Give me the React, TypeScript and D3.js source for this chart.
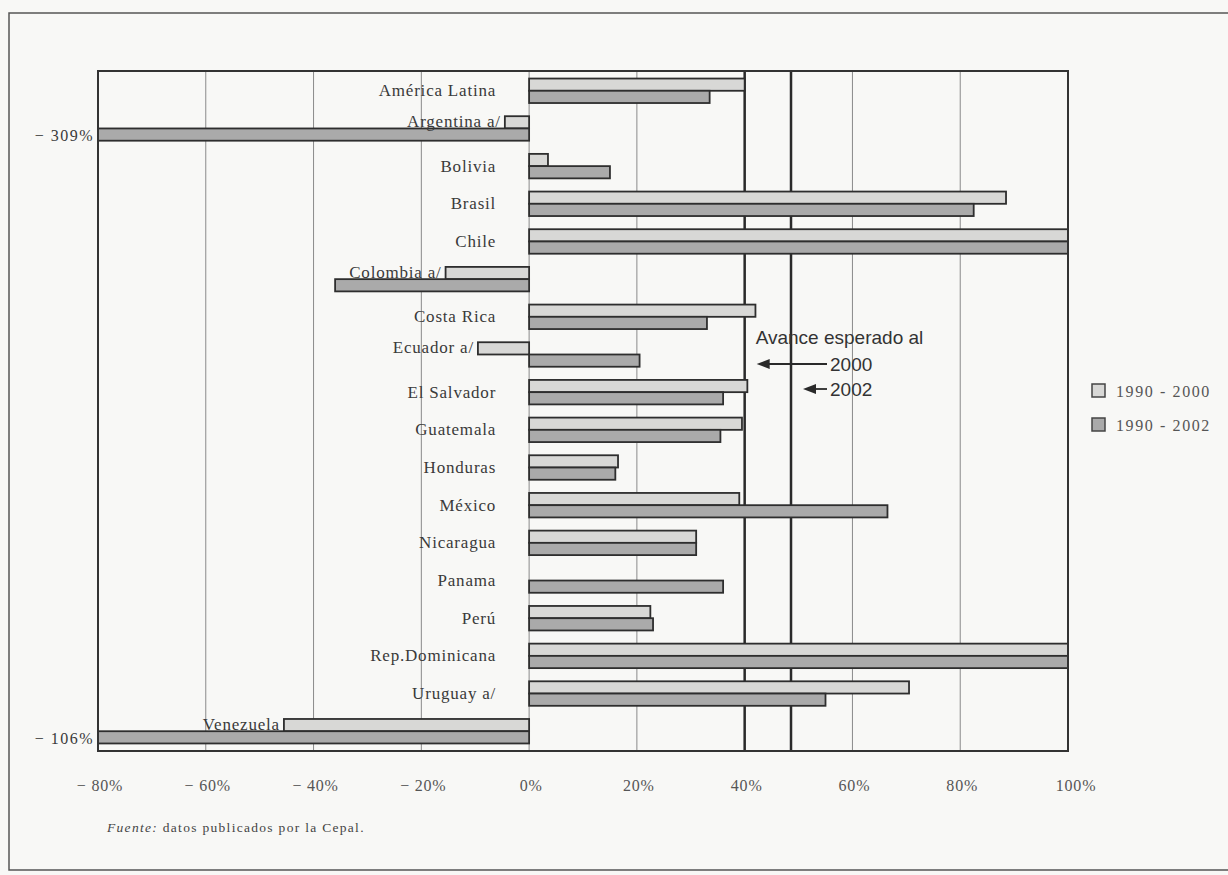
import React from "react";
import * as d3 from "d3";

// Avance en la reducción de la pobreza extrema, por país
const categories = [
  "América Latina", "Argentina a/", "Bolivia", "Brasil", "Chile", "Colombia a/",
  "Costa Rica", "Ecuador a/", "El Salvador", "Guatemala", "Honduras", "México",
  "Nicaragua", "Panama", "Perú", "Rep.Dominicana", "Uruguay a/", "Venezuela",
];
const series = ["1990 - 2000", "1990 - 2002"];
const values2000 = [40, -4.5, 3.5, 88.5, 100, -15.5, 42, -9.5, 40.5, 39.5, 16.5, 39, 31, 0, 22.5, 100, 70.5, -45.5];
const values2002 = [33.5, -309, 15, 82.5, 100, -36, 33, 20.5, 36, 35.5, 16, 66.5, 31, 36, 23, 100, 55, -106];
const xTicks = [-80, -60, -40, -20, 0, 20, 40, 60, 80, 100];
// Avance esperado al 2000 y al 2002
const expectedYears = ["2000", "2002"];
const expectedValues = [40, 48.6];

const W = 1228;
const H = 875;
const plot = { left: 98, right: 1068, top: 71, bottom: 751 };
const fills = ["#d8d8d6", "#aaaaaa"];
const ink = "#3a3a3a";
const serif = "'Liberation Serif', 'DejaVu Serif', serif";
const sans = "'Liberation Sans', Arial, sans-serif";

const fmtPct = (v: number) => (v < 0 ? "\u2212 " : "") + Math.abs(v) + "%";

export default function App() {
  const x = d3.scaleLinear().domain([-80, 100]).range([plot.left, plot.right]);
  const xc = x.copy().clamp(true);
  const y = d3
    .scaleBand<string>()
    .domain(categories)
    .range([plot.top, plot.bottom])
    .paddingInner(0.35)
    .paddingOuter(0.2);
  const ys = d3.scaleBand<string>().domain(series).range([0, y.bandwidth()]);

  const rows = categories.map((c, i) => ({ c, v: [values2000[i], values2002[i]] }));

  return (
    <svg
      width={W}
      height={H}
      style={{ position: "absolute", left: 0, top: 0, display: "block" }}
    >
      <rect x={0} y={0} width={W} height={H} fill="#f8f8f6" />
      {/* marco de la figura */}
      <rect x={9} y={13} width={W + 20} height={857} fill="none" stroke="#555" strokeWidth={1.5} />

      {/* líneas de la cuadrícula */}
      {xTicks.map((t) => (
        <line
          key={t}
          x1={x(t)}
          x2={x(t)}
          y1={plot.top}
          y2={plot.bottom}
          stroke="#8a8a8a"
          strokeWidth={1}
        />
      ))}
      {expectedValues.map((v, i) => (
        <line
          key={expectedYears[i]}
          x1={x(v)}
          x2={x(v)}
          y1={plot.top}
          y2={plot.bottom}
          stroke="#2a2a2a"
          strokeWidth={2.5}
        />
      ))}

      {/* barras */}
      {rows.map((r) =>
        r.v.map((v, k) => {
          if (v === 0) return null;
          const x0 = xc(Math.min(0, v));
          const x1 = xc(Math.max(0, v));
          return (
            <rect
              key={r.c + k}
              x={x0}
              y={(y(r.c) as number) + (ys(series[k]) as number)}
              width={x1 - x0}
              height={ys.bandwidth()}
              fill={fills[k]}
              stroke="#2e2e2e"
              strokeWidth={1.8}
            />
          );
        })
      )}

      {/* etiquetas de países */}
      {rows.map((r) => {
        const neg = r.v[0] < 0;
        const tx = neg ? x(r.v[0]) - 4 : x(0) - 33;
        const band = y(r.c) as number;
        const ty = neg
          ? band + (ys(series[0]) as number) + ys.bandwidth() / 2 - 1
          : band + y.bandwidth() / 2;
        return (
          <text
            key={r.c}
            x={tx}
            y={ty}
            textAnchor="end"
            dominantBaseline="central"
            fontFamily={serif}
            fontSize={17}
            letterSpacing={0.8}
            fill={ink}
          >
            {r.c}
          </text>
        );
      })}

      {/* valores fuera de escala */}
      {rows.map((r) =>
        r.v.map((v, k) =>
          v < -80 ? (
            <text
              key={"o" + r.c + k}
              x={plot.left - 4}
              y={(y(r.c) as number) + (ys(series[k]) as number) + ys.bandwidth() / 2 + 1}
              textAnchor="end"
              dominantBaseline="central"
              fontFamily={serif}
              fontSize={16}
              letterSpacing={1.5}
              fill={ink}
            >
              {fmtPct(v)}
            </text>
          ) : null
        )
      )}

      {/* marco del área de trazado */}
      <rect
        x={plot.left}
        y={plot.top}
        width={plot.right - plot.left}
        height={plot.bottom - plot.top}
        fill="none"
        stroke="#333"
        strokeWidth={2}
      />

      {/* eje x */}
      {xTicks.map((t) => (
        <text
          key={"t" + t}
          x={x(t) + (t === 100 ? 8 : 2)}
          y={785}
          textAnchor="middle"
          dominantBaseline="central"
          fontFamily={serif}
          fontSize={16}
          letterSpacing={0.8}
          fill="#555"
        >
          {fmtPct(t)}
        </text>
      ))}

      {/* anotación */}
      <text x={x(40) + 11} y={337} dominantBaseline="central" fontFamily={sans} fontSize={19} fill="#333">
        Avance esperado al
      </text>
      {expectedValues.map((v, i) => {
        const ay = 364 + i * 25;
        const tip = x(v) + 12;
        return (
          <g key={"a" + expectedYears[i]}>
            <line x1={827} x2={tip + 10} y1={ay} y2={ay} stroke="#2a2a2a" strokeWidth={1.8} />
            <path d={`M${tip},${ay} L${tip + 13},${ay - 5} L${tip + 13},${ay + 5} Z`} fill="#2a2a2a" />
            <text x={830} y={ay} dominantBaseline="central" fontFamily={sans} fontSize={19} fill="#333">
              {expectedYears[i]}
            </text>
          </g>
        );
      })}

      {/* leyenda */}
      {series.map((s, k) => (
        <g key={s} transform={`translate(1092, ${384 + k * 34})`}>
          <rect x={0} y={0} width={13} height={13} fill={fills[k]} stroke="#444" strokeWidth={1.5} />
          <text x={24} y={7} dominantBaseline="central" fontFamily={serif} fontSize={16} letterSpacing={1.6} fill="#555">
            {s}
          </text>
        </g>
      ))}

      {/* fuente */}
      <text x={107} y={827} dominantBaseline="central" fontFamily={serif} fontSize={13.5} letterSpacing={1.3} fill="#444">
        <tspan fontStyle="italic">Fuente:</tspan> datos publicados por la Cepal.
      </text>
    </svg>
  );
}
